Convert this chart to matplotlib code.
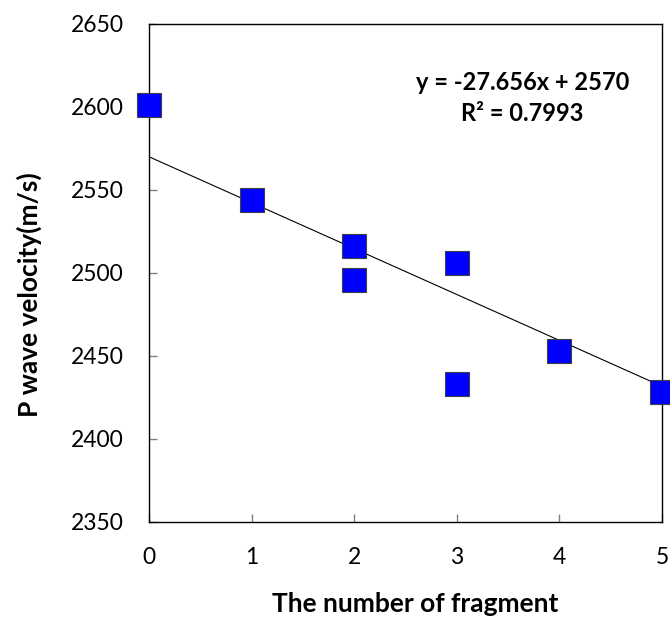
import matplotlib
matplotlib.use("Agg")
import matplotlib.pyplot as plt
import numpy as np

plt.rcParams['font.family'] = ['Lato', 'DejaVu Sans']

# measured fragments and P wave velocity
fragments = [0, 1, 2, 2, 3, 3, 4, 5]
velocity = [2601, 2544, 2516, 2496, 2506, 2433, 2453, 2428]

# linear trendline
slope = -27.656
intercept = 2570
r_squared = 0.7993

x_ticks = [0, 1, 2, 3, 4, 5]
y_ticks = [2350, 2400, 2450, 2500, 2550, 2600, 2650]

fig = plt.figure(figsize=(6.7, 6.27), dpi=100)
ax = fig.add_axes([0.2224, 0.1675, 0.7657, 0.7943])

xs = np.array([0, 5])
ax.plot(xs, slope * xs + intercept, color='black', lw=0.8, zorder=2)
ax.plot(fragments, velocity, ls='none', marker='s', markersize=17,
        markerfacecolor='#0000FF', markeredgecolor='#404040',
        markeredgewidth=0.8, clip_on=False, zorder=3)

ax.set_xlim(0, 5)
ax.set_ylim(2350, 2650)
ax.set_xticks(x_ticks)
ax.set_yticks(y_ticks)
ax.tick_params(direction='in', length=6, width=1, color='#808080',
               labelsize=16.5, pad=18)
for s in ax.spines.values():
    s.set_linewidth(1.0)
    s.set_color('black')

ax.set_xlabel('The number of fragment', fontsize=19, fontweight='bold', va='center')
ax.set_ylabel('P wave velocity(m/s)', fontsize=19, fontweight='bold', va='center')
ax.xaxis.set_label_coords(0.519, -0.165)
ax.yaxis.set_label_coords(-0.234, 0.456)

ax.text(3.64, 2615, f'y = {slope}x + {intercept}', fontsize=17,
        fontweight='bold', ha='center', va='center')
ax.text(3.64, 2596, f'R² = {r_squared}', fontsize=17,
        fontweight='bold', ha='center', va='center')

fig.savefig('out.png', dpi=100)
